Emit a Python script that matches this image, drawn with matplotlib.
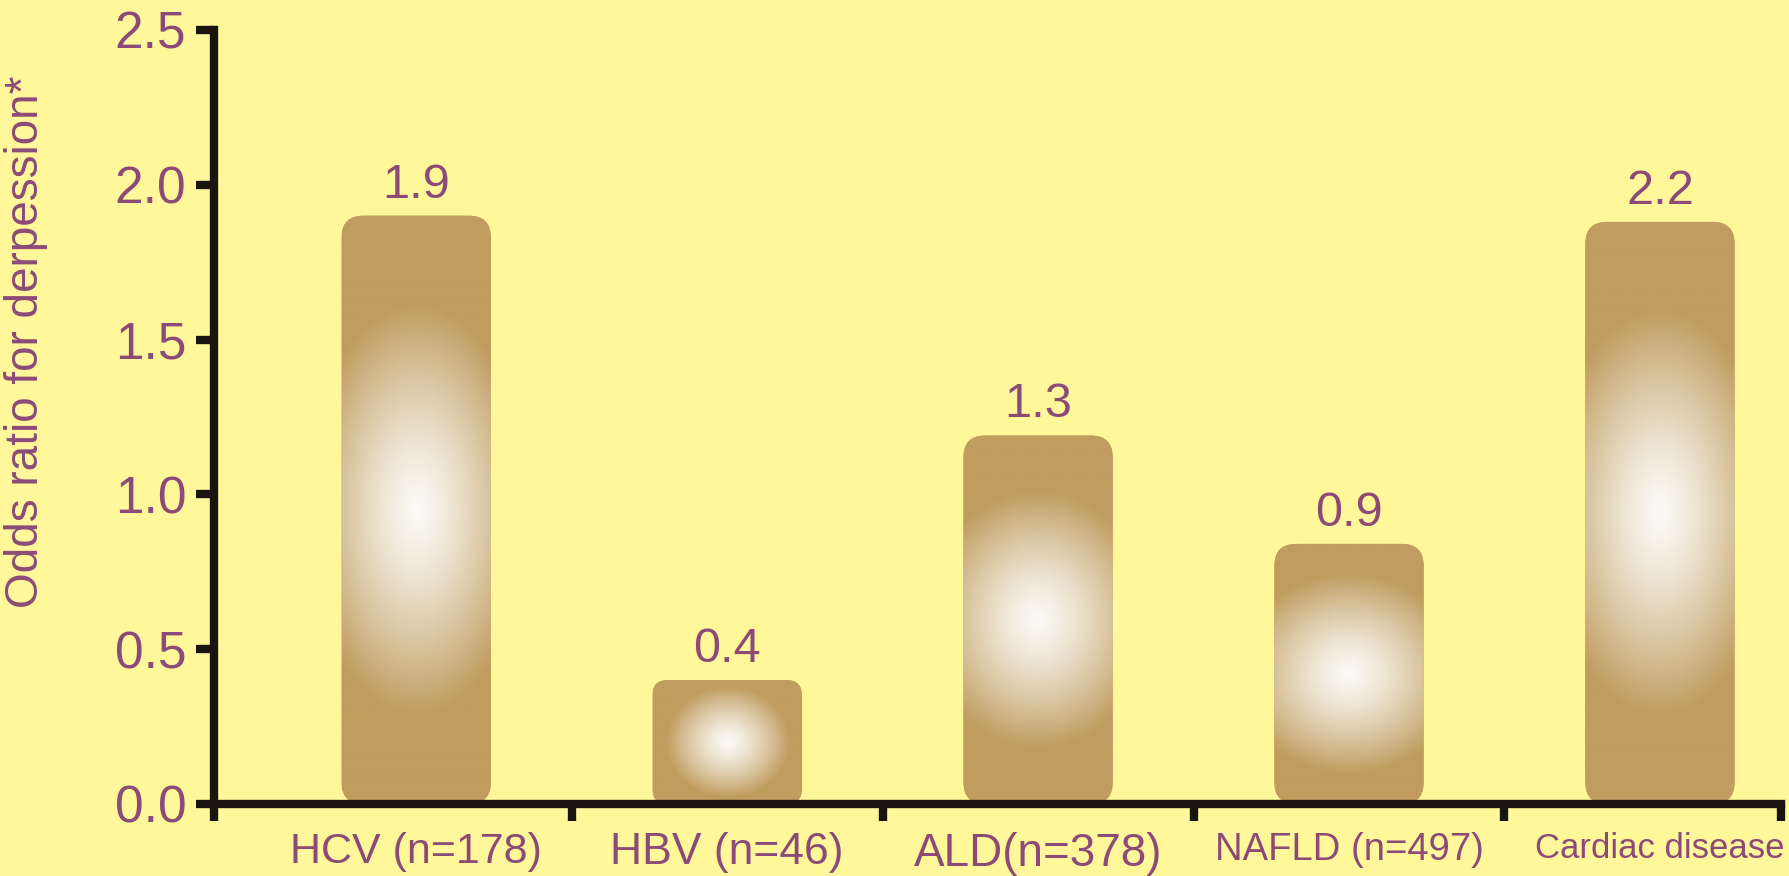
import numpy as np
import matplotlib.pyplot as plt
from matplotlib.patches import FancyBboxPatch
from matplotlib.colors import to_rgb

# data
categories = ['HCV (n=178)', 'HBV (n=46)', 'ALD(n=378)', 'NAFLD (n=497)', 'Cardiac disease']
bar_heights = [1.90, 0.40, 1.19, 0.84, 1.88]   # heights as drawn
value_labels = ['1.9', '0.4', '1.3', '0.9', '2.2']
y_ticks = [0.0, 0.5, 1.0, 1.5, 2.0, 2.5]

# the source squeezes the long labels; here they get a smaller size instead
label_sizes = [31, 32, 33, 27.5, 25]

BG = '#FFF799'
TAN = '#C09C5F'
TXT = '#8C4A78'
AXIS = '#1A1410'

plt.rcParams['font.family'] = ['Liberation Sans', 'DejaVu Sans']

fig = plt.figure(figsize=(17.9, 8.76), dpi=100, facecolor=BG)
ax = fig.add_axes([0.1196, 0.0822, 0.8755, 0.8836])
ax.set_facecolor(BG)

bar_w = 0.48
x = np.arange(len(categories))
tan = np.array(to_rgb(TAN))
white = np.array([0.985, 0.98, 0.96])

for xi, h in zip(x, bar_heights):
    rs = min(0.07, 0.12 * h)
    patch = FancyBboxPatch((xi - bar_w / 2, 0), bar_w, h,
                           boxstyle=f'round,pad=0,rounding_size={rs}',
                           fc=TAN, ec='none', zorder=2)
    ax.add_patch(patch)

    # soft radial highlight in the middle of each bar
    hw, hh = bar_w / 2, h / 2
    rx = min(1.5 * hw, hh)
    ry = max(0.7 * hh, 0.9 * rx)
    gx = np.linspace(-hw, hw, 200)
    gy = np.linspace(0, h, 400)
    X, Y = np.meshgrid(gx, gy)
    d = np.sqrt((X / rx) ** 2 + ((Y - hh) / ry) ** 2)
    t = (np.clip(d, 0, 1) ** 1.3)[..., None]
    img = (1 - t) * white + t * tan
    im = ax.imshow(img, extent=[xi - hw, xi + hw, 0, h], origin='lower',
                   aspect='auto', zorder=3, interpolation='bilinear')
    im.set_clip_path(patch)

for xi, h, lab in zip(x, bar_heights, value_labels):
    ax.annotate(lab, (xi, h), xytext=(0, 13), textcoords='offset points',
                ha='center', va='baseline', fontsize=35, color=TXT)

ax.set_xlim(-0.65, 4.39)
ax.set_ylim(0, 2.5)

for s in ['top', 'right']:
    ax.spines[s].set_visible(False)
for s in ['left', 'bottom']:
    ax.spines[s].set_linewidth(6)
    ax.spines[s].set_color(AXIS)
    ax.spines[s].set_zorder(5)

ax.set_yticks(y_ticks)
ax.set_yticklabels([f'{v:.1f}' for v in y_ticks])
ax.tick_params(axis='y', length=13, width=6, color=AXIS, labelsize=37,
               labelcolor=TXT, pad=7)

ax.set_xticks(x)
ax.set_xticklabels(categories)
ax.tick_params(axis='x', which='major', length=0, pad=20, labelcolor=TXT)
ax.set_xticks([-0.65, 0.5, 1.5, 2.5, 3.5, 4.39], minor=True)
ax.tick_params(axis='x', which='minor', length=12, width=6, color=AXIS)

for lbl, fs in zip(ax.get_xticklabels(), label_sizes):
    lbl.set_fontsize(fs)

fig.text(0.0022, 0.61, 'Odds ratio for derpession*', rotation=90,
         ha='left', va='center', fontsize=33, color=TXT)

fig.savefig('out.png', dpi=100, facecolor=BG)
plt.close(fig)
